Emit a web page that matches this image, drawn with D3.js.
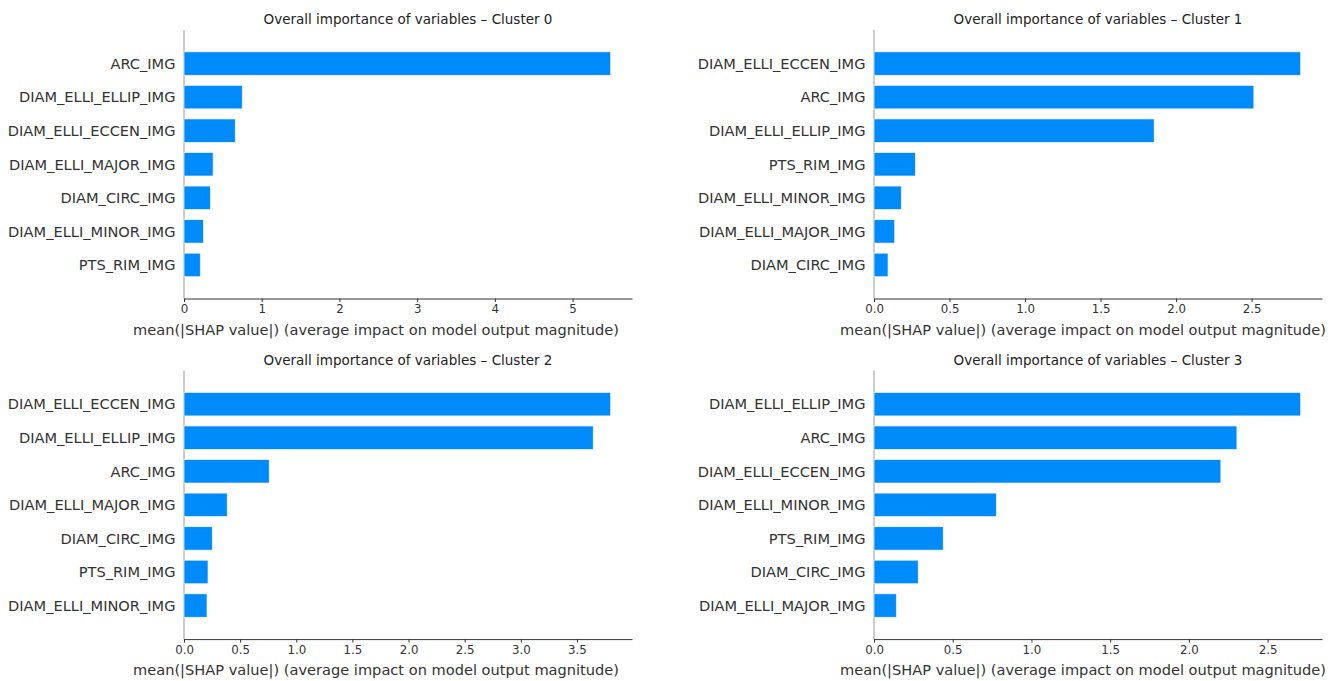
<!DOCTYPE html>
<html>
<head>
<meta charset="utf-8">
<script src="https://cdn.jsdelivr.net/npm/d3@7"></script>
<style>
  body { margin: 0; background: #fff; }
  svg { display: block; font-family: "DejaVu Sans", sans-serif; }
</style>
</head>
<body>
<svg id="chart" width="1339" height="681"></svg>
<script>
// Data, one pair of arrays per cluster (top bar first)
var names_c0 = ['ARC_IMG', 'DIAM_ELLI_ELLIP_IMG', 'DIAM_ELLI_ECCEN_IMG', 'DIAM_ELLI_MAJOR_IMG', 'DIAM_CIRC_IMG', 'DIAM_ELLI_MINOR_IMG', 'PTS_RIM_IMG']
var values_c0 = [5.49, 0.75, 0.66, 0.375, 0.34, 0.25, 0.21]

var names_c1 = ['DIAM_ELLI_ECCEN_IMG', 'ARC_IMG', 'DIAM_ELLI_ELLIP_IMG', 'PTS_RIM_IMG', 'DIAM_ELLI_MINOR_IMG', 'DIAM_ELLI_MAJOR_IMG', 'DIAM_CIRC_IMG']
var values_c1 = [2.825, 2.515, 1.855, 0.274, 0.181, 0.137, 0.093]

var names_c2 = ['DIAM_ELLI_ECCEN_IMG', 'DIAM_ELLI_ELLIP_IMG', 'ARC_IMG', 'DIAM_ELLI_MAJOR_IMG', 'DIAM_CIRC_IMG', 'PTS_RIM_IMG', 'DIAM_ELLI_MINOR_IMG']
var values_c2 = [3.80, 3.645, 0.759, 0.385, 0.252, 0.214, 0.205]

var names_c3 = ['DIAM_ELLI_ELLIP_IMG', 'ARC_IMG', 'DIAM_ELLI_ECCEN_IMG', 'DIAM_ELLI_MINOR_IMG', 'PTS_RIM_IMG', 'DIAM_CIRC_IMG', 'DIAM_ELLI_MAJOR_IMG']
var values_c3 = [2.71, 2.305, 2.203, 0.777, 0.44, 0.281, 0.142]

var titles = ['Overall importance of variables \u2013 Cluster 0', 'Overall importance of variables \u2013 Cluster 1',
  'Overall importance of variables \u2013 Cluster 2', 'Overall importance of variables \u2013 Cluster 3']
var x_label = 'mean(|SHAP value|) (average impact on model output magnitude)'

// label_shift: the x label sits a bit left of the axes centre in the original
var panels = [
  { names: names_c0, values: values_c0, title: titles[0], left: 184, top: 30, label_shift: -32 },
  { names: names_c1, values: values_c1, title: titles[1], left: 874, top: 30, label_shift: -15 },
  { names: names_c2, values: values_c2, title: titles[2], left: 184, top: 370.6, label_shift: -32 },
  { names: names_c3, values: values_c3, title: titles[3], left: 874, top: 370.6, label_shift: -15 }
]

var axes_width = 448
var axes_height = 268.5
var bar_color = '#008bfb'
var axis_color = '#333333'
var text_color = '#333333'

var svg = d3.select('#chart')

panels.forEach(panel => draw_panel(panel))

function draw_panel(panel) {
  var g = svg.append('g')
    .attr('transform', 'translate(' + panel.left + ',' + panel.top + ')')

  // matplotlib style: 0 on the left, 5% margin on the right
  var x = d3.scaleLinear()
    .domain([0, d3.max(panel.values) * 1.05])
    .range([0, axes_width])

  // positions -1 .. n, top feature at the top
  var n = panel.names.length
  var y = d3.scaleLinear()
    .domain([n, -1])
    .range([0, axes_height])
  var bar_h = (y(0) - y(1)) * 0.7

  // zero line
  g.append('line')
    .attr('x1', x(0)).attr('x2', x(0))
    .attr('y1', 0).attr('y2', axes_height)
    .attr('stroke', '#999999')
    .attr('stroke-width', 1)

  // bars
  g.selectAll('rect.bar')
    .data(panel.values)
    .enter()
    .append('rect')
    .attr('class', 'bar')
    .attr('x', x(0))
    .attr('y', (d, i) => y(n - 1 - i) - bar_h / 2)
    .attr('width', d => x(d) - x(0))
    .attr('height', bar_h)
    .attr('fill', bar_color)
    .attr('stroke', 'rgba(255,255,255,0.8)')
    .attr('stroke-width', 0.8)

  // feature names
  g.selectAll('text.feat')
    .data(panel.names)
    .enter()
    .append('text')
    .attr('class', 'feat')
    .attr('x', -8.5)
    .attr('y', (d, i) => y(n - 1 - i))
    .attr('dy', '0.36em')
    .attr('text-anchor', 'end')
    .attr('font-size', 14.6)
    .attr('fill', text_color)
    .text(d => d)

  // x axis
  var ticks = x.ticks(6)
  var all_int = ticks.every(t => Number.isInteger(t))
  var x_axis = d3.axisBottom(x)
    .tickValues(ticks)
    .tickFormat(all_int ? d3.format('d') : d3.format('.1f'))
    .tickSize(3.5)
    .tickPadding(3)
    .tickSizeOuter(0)

  var ax = g.append('g')
    .attr('transform', 'translate(0,' + axes_height + ')')
    .call(x_axis)
  ax.select('.domain').attr('stroke', axis_color).attr('stroke-width', 1)
  ax.selectAll('.tick line').attr('stroke', axis_color)
  ax.selectAll('.tick text')
    .attr('fill', axis_color)
    .attr('font-size', 11.8)
    .attr('font-family', '"DejaVu Sans", sans-serif')

  // x label
  g.append('text')
    .attr('x', axes_width / 2 + panel.label_shift)
    .attr('y', axes_height + 36)
    .attr('text-anchor', 'middle')
    .attr('font-size', 14.6)
    .attr('fill', text_color)
    .text(x_label)

  // title
  g.append('text')
    .attr('x', axes_width / 2)
    .attr('y', -6)
    .attr('text-anchor', 'middle')
    .attr('font-size', 13.5)
    .attr('fill', '#222222')
    .text(panel.title)
}
</script>
</body>
</html>
